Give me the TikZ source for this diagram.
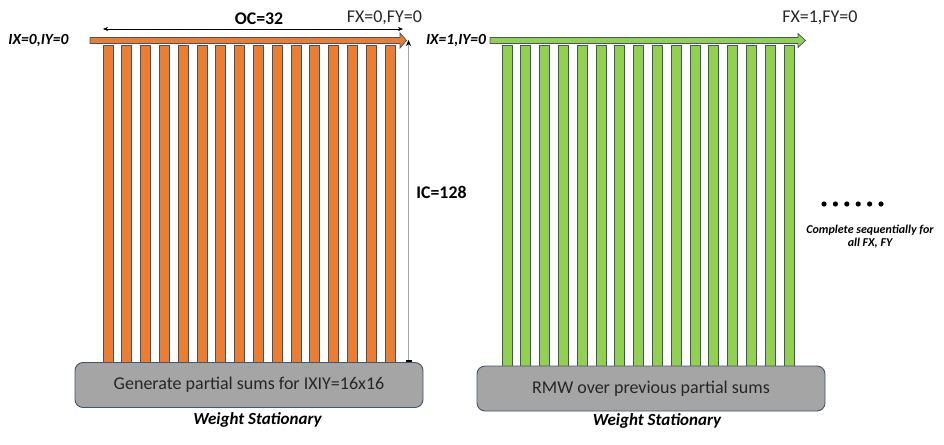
\documentclass[tikz,border=0pt]{standalone}
\usepackage{fontspec}
\setmainfont{Carlito}
\usetikzlibrary{arrows.meta}
\definecolor{orng}{HTML}{ED7D31}
\definecolor{grn}{HTML}{92D050}
\definecolor{edge}{HTML}{44546A}
\definecolor{boxgray}{HTML}{A5A5A5}
\begin{document}
\begin{tikzpicture}[x=1pt,y=-1pt,
  bar/.style={draw=edge,line width=0.8pt},
  blockarrow/.style={draw=edge,line width=0.7pt},
  psbox/.style={draw=edge,fill=boxgray,line width=0.9pt,rounded corners=8pt,minimum width=348pt,minimum height=45pt,inner sep=0pt,font=\fontsize{18}{20}\selectfont,text=black!85},
  wslabel/.style={font=\fontsize{17}{19}\selectfont\bfseries\itshape,inner sep=0pt},
  ixlabel/.style={font=\fontsize{15.5}{17}\selectfont\bfseries\itshape,inner sep=0pt},
  fxlabel/.style={font=\fontsize{18}{20}\selectfont,inner sep=0pt,text=black!85},
  dimlabel/.style={font=\fontsize{17.8}{20}\selectfont\bfseries,inner sep=0pt},
  dimline/.style={line width=0.5pt}
]
\useasboundingbox (0,0) rectangle (944,444);
% ---------- left (orange) ----------
\foreach \i in {0,...,15}{
  \path[bar,fill=orng] ({103+18.8*\i},45) rectangle ({113+18.8*\i},363);
}
\path[blockarrow,fill=orng] (90,37.5) -- (400,37.5) -- (400,33) -- (406.5,40.5) -- (400,48) -- (400,43.5) -- (90,43.5) -- cycle;
\node[psbox] (boxL) at (249,385) {Generate partial sums for IXIY=16x16};
\node[wslabel] (wsL) at (257.5,420) {Weight Stationary};
\node[ixlabel] (ixL) at (38.5,40.5) {IX=0,IY=0};
\node[fxlabel] (fxL) at (384.5,18) {FX=0,FY=0};
\coordinate (ocA) at (103,29);
\coordinate (ocB) at (403,29);
\draw[dimline,{Stealth[length=5pt,width=4pt]}-{Stealth[length=5pt,width=4pt]}] (ocA) -- (ocB);
\node[dimlabel] (oc) at (259,19) {OC=32};
\coordinate (icB) at (408.5,361);
\coordinate (icT) at (408.5,40);
\draw[line width=0.6pt,draw=black!35,-{Stealth[length=6pt,width=5pt,color=black]}] (icB) -- (icT);
\fill[black] (405.5,359.5) rectangle (411.5,362);
\node[dimlabel] (ic) at (441.5,192) {IC=128};
% ---------- right (green) ----------
\foreach \i in {0,...,15}{
  \path[bar,fill=grn] ({502+18.8*\i},45) rectangle ({512+18.8*\i},367);
}
\path[blockarrow,fill=grn] (490,37.5) -- (798,37.5) -- (798,33.5) -- (805.5,40.5) -- (798,47.5) -- (798,43.5) -- (490,43.5) -- cycle;
\node[psbox] (boxR) at (651,388.5) {RMW over previous partial sums};
\node[wslabel] (wsR) at (657,421) {Weight Stationary};
\node[ixlabel] (ixR) at (456,40) {IX=1,IY=0};
\node[fxlabel] (fxR) at (820,18) {FX=1,FY=0};
% dots and note
\foreach \i in {0,...,5}{
  \fill ({824+11.4*\i},204) circle (2.6);
}
\node[font=\fontsize{12}{13.5}\selectfont\bfseries\itshape,align=center,inner sep=0pt] (note) at (870,236.5) {Complete sequentially for\\all FX, FY};
\end{tikzpicture}
\end{document}
